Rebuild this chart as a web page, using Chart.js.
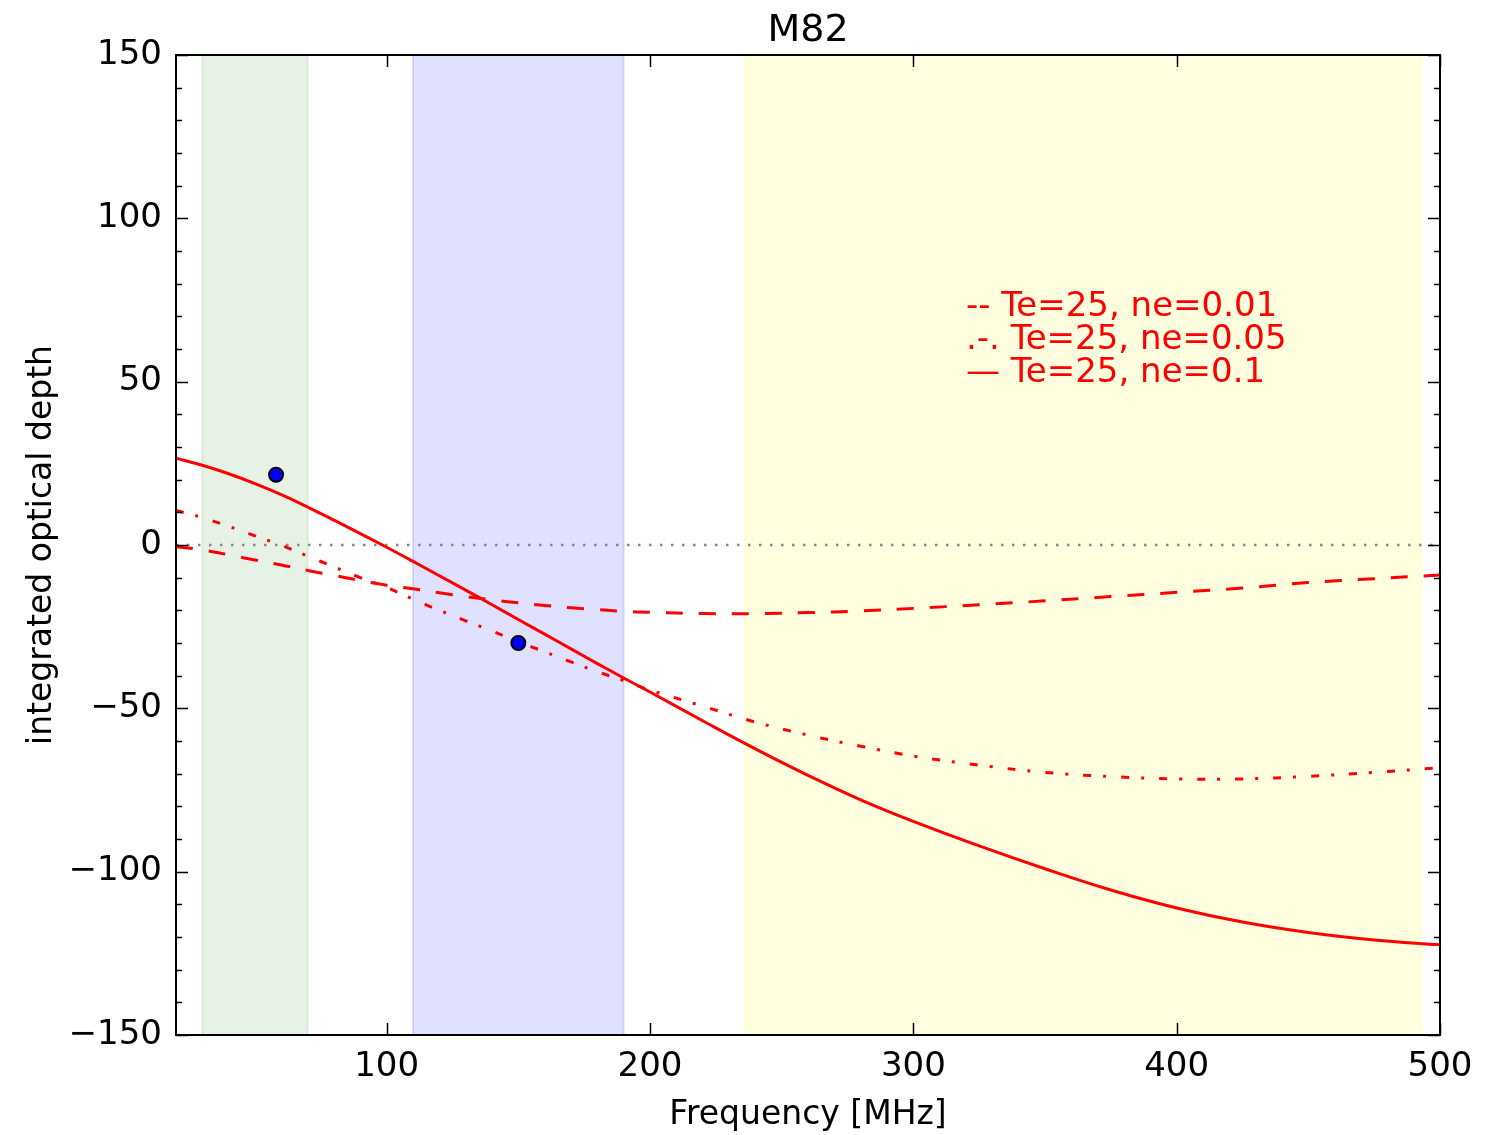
<!DOCTYPE html>
<html>
<head>
<meta charset="utf-8">
<script src="https://cdn.jsdelivr.net/npm/chart.js@4.4.1/dist/chart.umd.min.js"></script>
<style>
  body { margin: 0; background: #fff; }
  #wrap { width: 1486px; height: 1135px; }
</style>
</head>
<body>
<div id="wrap"><canvas id="myChart"></canvas></div>
<script>
// frequencies (MHz) shared by the three model curves
const freqs = [20, 30, 40, 50, 60, 70, 80, 90, 100, 110, 120, 130, 140, 150, 160, 170, 180, 190, 200,
    220, 240, 260, 280, 300, 325, 350, 375, 400, 425, 450, 475, 500];
// Te=25, ne=0.1 (solid)
const tauNe01 = [26.6, 24.4, 21.8, 18.8, 15.4, 11.6, 7.6, 3.5, -0.7, -5.0, -9.4, -13.8, -18.3, -22.8, -27.3, -31.8, -36.3, -40.7, -45.0,
    -53.8, -62.4, -70.5, -78.0, -84.6, -92.1, -99.1, -105.6, -111.1, -115.4, -118.6, -120.9, -122.4];
// Te=25, ne=0.01 (dashed)
const tauNe001 = [-0.5, -1.5, -3.0, -4.6, -6.1, -7.8, -9.3, -10.9, -12.3, -13.4, -14.6, -15.8, -16.8, -17.7, -18.5, -19.2, -19.8, -20.3, -20.6,
    -21.0, -21.0, -20.7, -20.2, -19.4, -18.3, -17.1, -15.8, -14.5, -13.2, -11.5, -10.3, -9.2];
// Te=25, ne=0.05 (dash-dot)
const tauNe005 = [10.6, 8.4, 5.7, 2.8, -0.1, -3.4, -6.7, -10.0, -13.0, -16.6, -20.0, -23.2, -26.3, -29.6, -32.7, -35.8, -38.8, -41.5, -44.4,
    -49.3, -54.2, -58.2, -61.6, -64.6, -67.4, -69.6, -70.9, -71.6, -71.6, -70.8, -69.6, -68.2];

// measured points
const obsFreq = [58, 150];
const obsTau = [21.5, -30];

// observing bands (MHz)
const bandStart = [30, 110, 236];
const bandEnd = [70, 190, 493];

const xTicks = [100, 200, 300, 400, 500];
const yMin = -150, yMax = 150, yStep = 50, yMinorStep = 10;

const legendLabels = ['-- Te=25, ne=0.01', '.-. Te=25, ne=0.05', '\u2014 Te=25, ne=0.1'];
const legendX = 320;
const legendY = [70, 60, 50];

const FONT = "'DejaVu Sans', 'Bitstream Vera Sans', sans-serif";

function toXY(xs, ys) {
    return xs.map(function (x, i) { return { x: x, y: ys[i] }; });
}

const bandColors = ['rgba(0,128,0,0.1)', 'rgba(0,0,255,0.12)', 'rgba(255,255,0,0.12)'];

const bandsPlugin = {
    id: 'bands',
    beforeDatasetsDraw: function (chart) {
        const ctx = chart.ctx, area = chart.chartArea, xs = chart.scales.x;
        ctx.save();
        for (var i = 0; i < bandStart.length; i++) {
            const x0 = xs.getPixelForValue(bandStart[i]);
            const x1 = xs.getPixelForValue(bandEnd[i]);
            ctx.fillStyle = bandColors[i];
            ctx.fillRect(x0, area.top, x1 - x0, area.bottom - area.top);
            ctx.strokeStyle = bandColors[i];
            ctx.lineWidth = 2;
            ctx.strokeRect(x0, area.top, x1 - x0, area.bottom - area.top);
        }
        ctx.restore();
    }
};

const framePlugin = {
    id: 'frame',
    afterDraw: function (chart) {
        const ctx = chart.ctx, a = chart.chartArea;
        const xs = chart.scales.x, ys = chart.scales.y;
        ctx.save();
        // legend text
        ctx.fillStyle = '#ff0000';
        ctx.font = '34px ' + FONT;
        ctx.textAlign = 'left';
        ctx.textBaseline = 'alphabetic';
        legendLabels.forEach(function (t, i) {
            ctx.fillText(t, xs.getPixelForValue(legendX), ys.getPixelForValue(legendY[i]));
        });
        // title
        ctx.fillStyle = '#000';
        ctx.font = '38px ' + FONT;
        ctx.textAlign = 'center';
        ctx.textBaseline = 'alphabetic';
        ctx.fillText('M82', (a.left + a.right) / 2, 41);
        // inward ticks
        ctx.strokeStyle = '#000';
        ctx.lineWidth = 1.5;
        ctx.beginPath();
        for (var v = yMin; v <= yMax; v += yMinorStep) {
            const py = Math.round(ys.getPixelForValue(v)) + 0.5;
            const len = (v % yStep === 0) ? 12 : 6;
            ctx.moveTo(a.left, py); ctx.lineTo(a.left + len, py);
            ctx.moveTo(a.right, py); ctx.lineTo(a.right - len, py);
        }
        xTicks.forEach(function (t) {
            const px = Math.round(xs.getPixelForValue(t)) + 0.5;
            ctx.moveTo(px, a.bottom); ctx.lineTo(px, a.bottom - 12);
            ctx.moveTo(px, a.top); ctx.lineTo(px, a.top + 12);
        });
        ctx.stroke();
        // frame
        ctx.lineWidth = 2;
        ctx.strokeRect(a.left, a.top, a.right - a.left, a.bottom - a.top);
        ctx.restore();
    }
};

const ctx = document.getElementById('myChart').getContext('2d');
const myChart = new Chart(ctx, {
    type: 'line',
    data: {
        datasets: [{
            type: 'scatter',
            label: 'observed',
            data: toXY(obsFreq, obsTau),
            pointRadius: 7,
            pointBackgroundColor: '#0000ff',
            pointBorderColor: '#000',
            pointBorderWidth: 2,
            showLine: false
        }, {
            label: 'Te=25, ne=0.1',
            data: toXY(freqs, tauNe01),
            borderColor: '#ff0000',
            borderWidth: 3,
            pointRadius: 0,
            tension: 0.4
        }, {
            label: 'Te=25, ne=0.05',
            data: toXY(freqs, tauNe005),
            borderColor: '#ff0000',
            borderWidth: 3,
            borderDash: [8, 12, 3, 15],
            pointRadius: 0,
            tension: 0.4
        }, {
            label: 'Te=25, ne=0.01',
            data: toXY(freqs, tauNe001),
            borderColor: '#ff0000',
            borderWidth: 3,
            borderDash: [17, 16],
            pointRadius: 0,
            tension: 0.4
        }, {
            label: 'zero',
            data: toXY([20, 500], [0, 0]),
            borderColor: '#888888',
            borderWidth: 2.5,
            borderDash: [2.5, 8.5],
            pointRadius: 0
        }]
    },
    options: {
        responsive: true,
        maintainAspectRatio: false,
        animation: false,
        layout: { padding: { top: 55, right: 46, bottom: 0, left: 0 } },
        plugins: {
            legend: { display: false },
            title: { display: false },
            tooltip: { enabled: false }
        },
        scales: {
            x: {
                type: 'linear',
                min: 20,
                max: 500,
                afterBuildTicks: function (s) { s.ticks = xTicks.map(function (v) { return { value: v }; }); },
                afterFit: function (s) { s.height = 100; },
                grid: { drawOnChartArea: false, drawTicks: false },
                border: { display: false },
                ticks: { color: '#000', font: { family: FONT, size: 34 }, padding: 12, maxRotation: 0 },
                title: { display: true, text: 'Frequency [MHz]', color: '#000', font: { family: FONT, size: 33 }, padding: { top: 0, bottom: 0 } }
            },
            y: {
                type: 'linear',
                min: yMin,
                max: yMax,
                afterFit: function (s) { s.width = 176; },
                grid: { drawOnChartArea: false, drawTicks: false },
                border: { display: false },
                ticks: {
                    stepSize: yStep,
                    color: '#000',
                    font: { family: FONT, size: 34 },
                    padding: 14,
                    callback: function (v) { return v < 0 ? '\u2212' + Math.abs(v) : '' + v; }
                },
                title: { display: true, text: 'integrated optical depth', color: '#000', font: { family: FONT, size: 33 }, padding: { top: 23, bottom: 0 } }
            }
        }
    },
    plugins: [bandsPlugin, framePlugin]
});
</script>
</body>
</html>
